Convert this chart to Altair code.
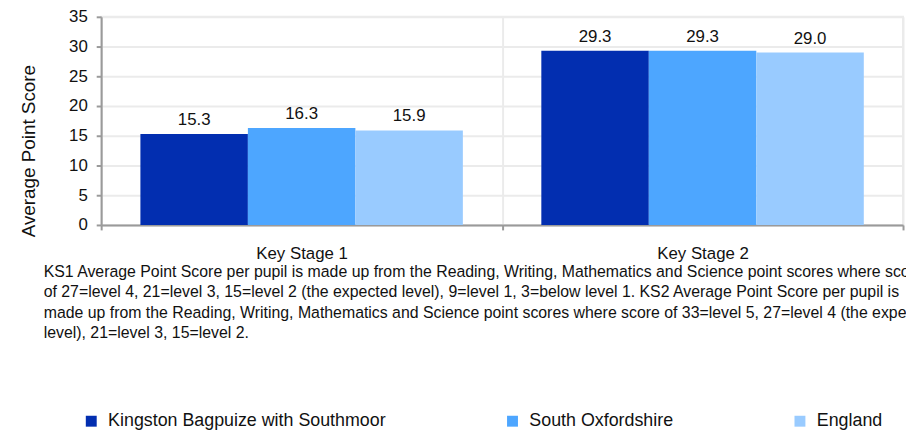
import altair as alt
import pandas as pd

stages = ["Key Stage 1", "Key Stage 2"]
areas = ["Kingston Bagpuize with Southmoor", "South Oxfordshire", "England"]
ks1_values = [15.3, 16.3, 15.9]
ks2_values = [29.3, 29.3, 29.0]
colors = ["#022EB0", "#4DA6FF", "#99CBFF"]
y_ticks = [0, 5, 10, 15, 20, 25, 30, 35]
footnote = [
    "KS1 Average Point Score per pupil is made up from the Reading, Writing, Mathematics and Science point scores where score",
    "of 27=level 4, 21=level 3, 15=level 2 (the expected level), 9=level 1, 3=below level 1. KS2 Average Point Score per pupil is",
    "made up from the Reading, Writing, Mathematics and Science point scores where score of 33=level 5, 27=level 4 (the expected",
    "level), 21=level 3, 15=level 2.",
]

rows = []
for stage, vals in zip(stages, [ks1_values, ks2_values]):
    for area, v in zip(areas, vals):
        rows.append({"stage": stage, "area": area, "value": v})
df = pd.DataFrame(rows)

FONT = "Liberation Sans"
AXIS_GRAY = "#9A9A9A"
GRID_GRAY = "#EBEBEB"

x_enc = alt.X(
    "stage:N",
    sort=stages,
    scale=alt.Scale(paddingInner=0, paddingOuter=0),
    axis=alt.Axis(
        title=None,
        labelAngle=0,
        tickBand="extent",
        grid=True,
        gridColor=GRID_GRAY,
        gridWidth=2,
        domainColor=AXIS_GRAY,
        domainWidth=2,
        tickColor=AXIS_GRAY,
        tickWidth=2,
        tickSize=5,
        labelFontSize=17,
        labelColor="#111111",
        labelPadding=16,
    ),
)
xoff_enc = alt.XOffset(
    "area:N", sort=areas, scale=alt.Scale(paddingInner=0, paddingOuter=0.365)
)
y_enc = alt.Y(
    "value:Q",
    scale=alt.Scale(domain=[0, 35], nice=False),
    axis=alt.Axis(
        title="Average Point Score",
        values=y_ticks,
        labelOverlap=False,
        grid=True,
        gridColor=GRID_GRAY,
        gridWidth=2,
        domainColor=AXIS_GRAY,
        domainWidth=2,
        tickColor=AXIS_GRAY,
        tickWidth=2,
        tickSize=5,
        labelFontSize=17,
        labelColor="#111111",
        labelPadding=9,
        titleFontSize=19,
        titleFontWeight="normal",
        titleColor="#111111",
        titleX=-73,
        titleY=135,
        titleBaseline="middle",
    ),
)
color_enc = alt.Color(
    "area:N",
    sort=areas,
    scale=alt.Scale(domain=areas, range=colors),
    legend=alt.Legend(
        title=None,
        orient="none",
        direction="horizontal",
        legendX=-19,
        legendY=399,
        padding=0,
        symbolType="square",
        symbolSize=121,
        symbolStrokeWidth=0,
        symbolOpacity=1,
        labelFontSize=18,
        labelColor="#111111",
        labelOffset=8,
        columnPadding=118,
        labelLimit=400,
    ),
)

base = alt.Chart(df)
bars = base.mark_bar(stroke=None).encode(
    x=x_enc, xOffset=xoff_enc, y=y_enc, color=color_enc
)
labels = base.mark_text(
    baseline="alphabetic", dy=-9, fontSize=17, color="#111111", font=FONT
).encode(
    x=x_enc,
    xOffset=xoff_enc,
    y=y_enc,
    text=alt.Text("value:Q", format=".1f"),
)
note = alt.Chart(alt.Data(values=[{}])).mark_text(
    align="left",
    baseline="alphabetic",
    fontSize=16,
    lineHeight=20.5,
    color="#111111",
    font=FONT,
).encode(
    x=alt.value(-58),
    y=alt.value(262.5),
    text=alt.value(footnote),
)

chart = (
    alt.layer(bars, labels, note)
    .properties(
        width=809,
        height=210,
        autosize=alt.AutoSizeParams(type="none"),
        padding={"left": 94, "top": 7, "right": 3, "bottom": 208},
    )
    .configure(font=FONT)
    .configure_view(stroke=GRID_GRAY, strokeWidth=2)
)

chart.save("out.html", embed_options={"renderer": "svg", "actions": False})
